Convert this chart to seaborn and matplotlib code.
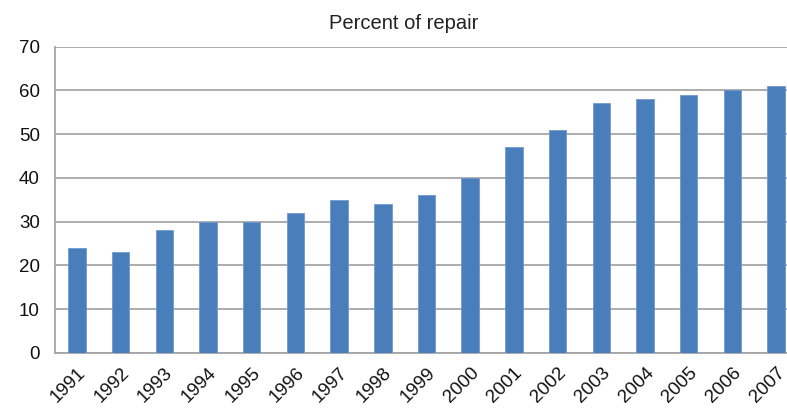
import seaborn as sns
import pandas as pd
import matplotlib.pyplot as plt

years = ["1991", "1992", "1993", "1994", "1995", "1996", "1997", "1998", "1999",
         "2000", "2001", "2002", "2003", "2004", "2005", "2006", "2007"]
percent = [24, 23, 28, 30, 30, 32, 35, 34, 36, 40, 47, 51, 57, 58, 59, 60, 61]

df = pd.DataFrame({"year": years, "percent": percent})

sns.set_style("white")
plt.rcParams['font.family'] = ['Liberation Sans', 'DejaVu Sans']

fig = plt.figure(figsize=(7.87, 4.13), dpi=100)
ax = fig.add_axes([0.0699, 0.1453, 0.944, 0.7421])

sns.barplot(data=df, x="year", y="percent", color="#4A7EBB", saturation=1,
            width=0.4, edgecolor="#6F9AD0", linewidth=0.6, ax=ax, zorder=3)

ax.set_ylim(0, 70)
ax.set_xlim(-0.5, len(years) - 0.5)
ax.set_yticks(range(0, 71, 10))
ax.yaxis.grid(True, color="#A6A6A6", linewidth=1.3, zorder=0)
ax.set_axisbelow(True)
ax.set_xlabel("")
ax.set_ylabel("")
fig.text(0.513, 0.942, "Percent of repair", fontsize=14.5, ha="center", va="center", color="#222222")

for s in ["top", "right"]:
    ax.spines[s].set_visible(False)
for s in ["left", "bottom"]:
    ax.spines[s].set_color("#A6A6A6")
    ax.spines[s].set_linewidth(1.3)

# ticks between categories, like the spreadsheet original
ax.set_xticks([i + 0.5 for i in range(-1, len(years))], minor=True)
ax.tick_params(axis="x", which="minor", length=6, width=1.2, color="#A6A6A6", direction="out")
ax.tick_params(axis="x", which="major", length=0, labelsize=13.5, pad=8, labelcolor="#111111")
ax.tick_params(axis="y", length=6, width=1.2, color="#A6A6A6", direction="out", labelsize=13.5, pad=5,
               labelcolor="#111111")
plt.setp(ax.get_xticklabels(), rotation=45, ha="right", rotation_mode="anchor")

fig.savefig("out.png", dpi=100)
